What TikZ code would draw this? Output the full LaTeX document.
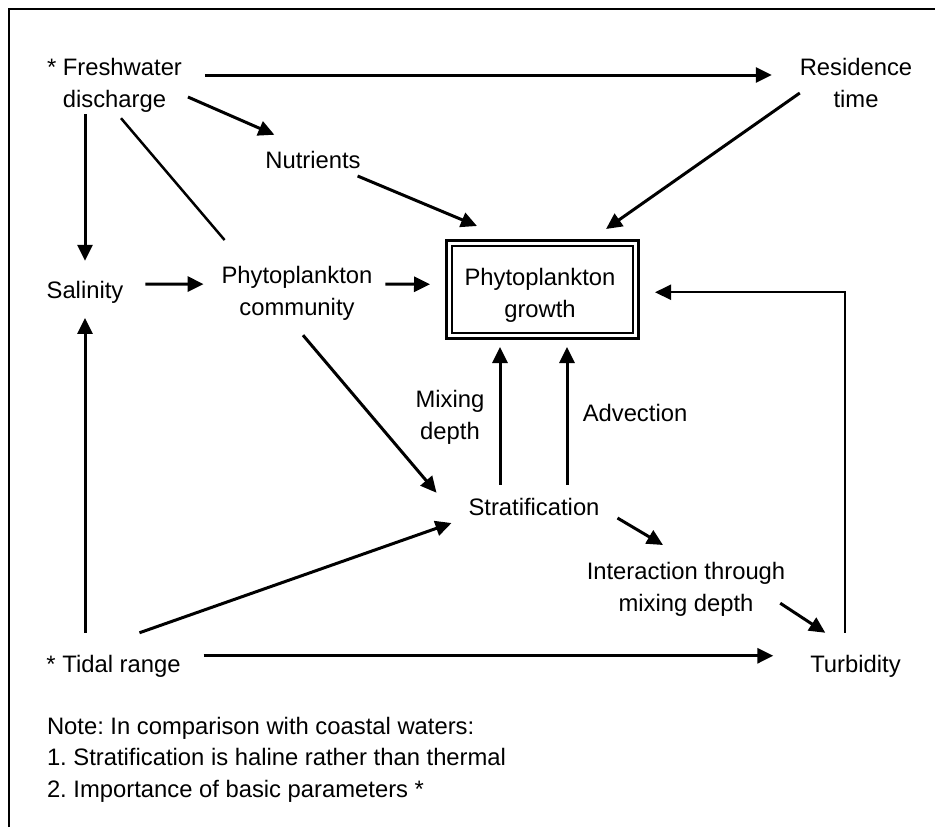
\documentclass[tikz,border=0pt]{standalone}
\usepackage{fontspec}
\setmainfont{Liberation Sans}
\usetikzlibrary{arrows.meta,calc}
\frenchspacing
\begin{document}
\begin{tikzpicture}[x=0.5pt,y=-0.5pt,
  lbl/.style={inner sep=0pt, outer sep=0pt, align=center,
    font=\fontsize{11.9}{16}\selectfont},
  gbox/.style={draw, double, line width=1.25pt, double distance=1.5pt,
    minimum width=93.25pt, minimum height=46.25pt, inner sep=0pt, outer sep=0pt},
  arr/.style={line width=1.5pt, -{Triangle[length=8pt,width=7.5pt]}},
  link/.style={line width=1.25pt},
  feedback/.style={line width=1pt, -{Triangle[length=8pt,width=7.5pt]}},
  frame/.style={line width=1pt}]
\useasboundingbox (0,0) rectangle (935,827);

% frame
\draw[frame] (9,827) -- (9,9) -- (935,9);

% factors
\node[lbl, anchor=north] (fresh) at (114.5,58) {* Freshwater\\discharge};
\node[lbl, anchor=north] (res) at (856,58) {Residence\\time};
\node[lbl, anchor=base] (nut) at (313,168) {Nutrients};
\node[gbox] (growth) at (542.25,289.25) {};
\node[lbl, anchor=north] (growthtxt) at (540,268) {Phytoplankton\\growth};
\node[lbl, anchor=base] (sal) at (85,298) {Salinity};
\node[lbl, anchor=north] (comm) at (297,266) {Phytoplankton\\community};
\node[lbl, anchor=north] (mix) at (450,390) {Mixing\\depth};
\node[lbl, anchor=base] (adv) at (635,421) {Advection};
\node[lbl, anchor=base] (strat) at (534,515) {Stratification};
\node[lbl, anchor=north] (inter) at (686,562) {Interaction through\\mixing depth};
\node[lbl, anchor=base] (tidal) at (113.5,672) {* Tidal range};
\node[lbl, anchor=base] (turb) at (855.5,672) {Turbidity};
\node[lbl, anchor=north west, align=left, font=\fontsize{11.9}{15.75}\selectfont]
  (note) at (47,717)
  {Note: In comparison with coastal waters:\\
   1. Stratification is haline rather than thermal\\
   2. Importance of basic parameters *};

% connectors
\draw[arr] ($(fresh.north east)+(23,17)$) -- ($(res.north west)+(-28,17)$);
\draw[arr] ($(fresh.north east)+(6,39)$) -- ($(nut.north west)+(9,-16)$);
\draw[arr] ($(sal.north |- fresh.south)+(0,2)$) -- ($(sal.north)+(0,-20)$);
\draw[link] ($(fresh.south)+(6.5,6)$) -- ($(comm.north west)+(3,-26)$);
\draw[arr] ($(nut.base east)+(-3,8)$) -- ($(growth.north west)+(28,-17)$);
\draw[arr] ($(res.north west)+(0,35)$) -- ($(growth.north east)+(-29.5,-14)$);
\draw[arr] ($(sal.base east)+(22,-14)$) -- ($(comm.west)+(-18,-9)$);
\draw[arr] ($(comm.east)+(13,-9)$) -- ($(growth.west)+(-19,-5)$);
\draw[feedback] ($(turb.north)+(-10.5,-22)$) |- ($(growth.east)+(19.5,3)$);
\draw[arr] ($(sal.south |- tidal.north)+(0,-22)$) -- ($(sal.south)+(0,15)$);
\draw[arr] ($(comm.south)+(6,15)$) -- ($(strat.north west)+(-32,-5)$);
\draw[arr] ($(tidal.north west)+(93,-22)$) -- ($(strat.base west)+(-17,8)$);
\coordinate (mixfoot) at ($(strat.north)+(-34,-13)$);
\coordinate (advfoot) at ($(strat.north)+(33,-13)$);
\draw[arr, shorten >=5.75pt] (mixfoot) -- (mixfoot |- growth.south);
\draw[arr, shorten >=5.75pt] (advfoot) -- (advfoot |- growth.south);
\draw[arr] ($(strat.base east)+(18,3)$) -- ($(inter.north)+(-23,-17)$);
\draw[arr] ($(inter.south east)+(-5,-13)$) -- ($(turb.north west)+(15,-22)$);
\draw[arr] ($(tidal.north east)+(23,1)$) -- ($(turb.north west)+(-37,1)$);
\end{tikzpicture}
\end{document}
